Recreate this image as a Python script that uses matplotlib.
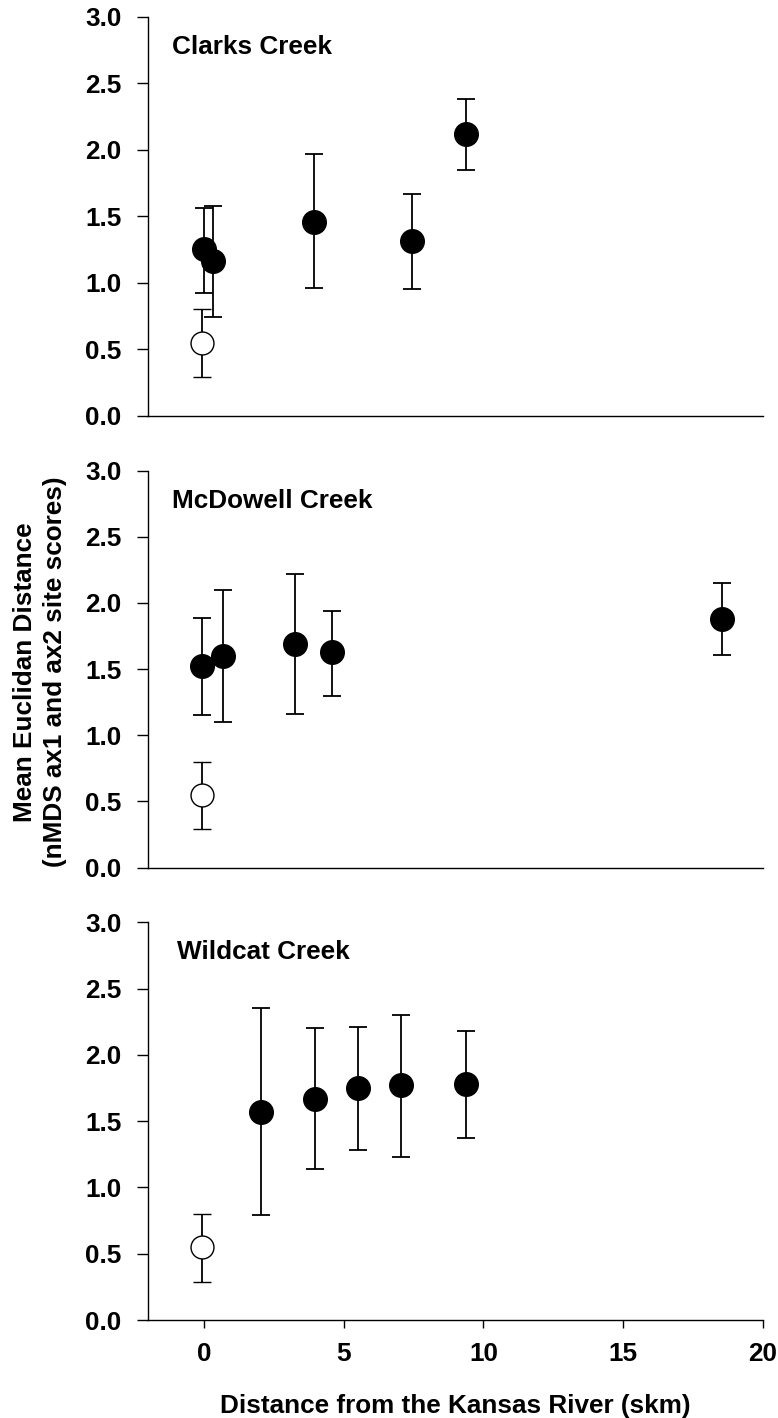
import numpy as np
import matplotlib
matplotlib.use('Agg')
import matplotlib.pyplot as plt

plt.rcParams['font.family'] = ['Liberation Sans', 'DejaVu Sans']
plt.rcParams['font.weight'] = 'bold'
plt.rcParams['font.size'] = 18.8

# %% data

creeks = ['Clarks Creek', 'McDowell Creek', 'Wildcat Creek']

# reference site (open circle), same in every panel
ref_x = -0.08
ref_y = 0.55
ref_lo = 0.29
ref_hi = 0.80

clarks_x = [0.0, 0.34, 3.95, 7.44, 9.36]
clarks_y = [1.25, 1.16, 1.46, 1.31, 2.12]
clarks_lo = [0.92, 0.74, 0.96, 0.95, 1.85]
clarks_hi = [1.56, 1.58, 1.97, 1.67, 2.38]

mcdowell_x = [-0.08, 0.67, 3.26, 4.57, 18.53]
mcdowell_y = [1.52, 1.60, 1.69, 1.63, 1.88]
mcdowell_lo = [1.15, 1.10, 1.16, 1.30, 1.61]
mcdowell_hi = [1.89, 2.10, 2.22, 1.94, 2.15]

wildcat_x = [2.05, 3.99, 5.51, 7.05, 9.36]
wildcat_y = [1.57, 1.67, 1.75, 1.77, 1.78]
wildcat_lo = [0.79, 1.14, 1.28, 1.23, 1.37]
wildcat_hi = [2.35, 2.20, 2.21, 2.30, 2.18]

xs = [clarks_x, mcdowell_x, wildcat_x]
ys = [clarks_y, mcdowell_y, wildcat_y]
los = [clarks_lo, mcdowell_lo, wildcat_lo]
his = [clarks_hi, mcdowell_hi, wildcat_hi]

xticks = [0, 5, 10, 15, 20]
yticks = [0.0, 0.5, 1.0, 1.5, 2.0, 2.5, 3.0]

# %% figure

W, H = 778, 1418
fig = plt.figure(figsize=(W / 100, H / 100), dpi=100)

left = 148 / W
width = (763 - 148) / W
# (top px, bottom px) of each panel
panels = [(16.7, 415.7), (470.7, 867.5), (922.3, 1320.0)]

for i, (top, bot) in enumerate(panels):
    ax = fig.add_axes([left, (H - bot) / H, width, (bot - top) / H])

    # reference point
    ax.errorbar([ref_x], [ref_y],
                yerr=[[ref_y - ref_lo], [ref_hi - ref_y]],
                fmt='o', ms=16.5, mfc='white', mec='black', mew=1.0,
                ecolor='black', elinewidth=1.3, capsize=6.5, capthick=1.3,
                zorder=3)

    x = np.array(xs[i])
    y = np.array(ys[i])
    yerr = [y - np.array(los[i]), np.array(his[i]) - y]
    ax.errorbar(x, y, yerr=yerr, fmt='o', ms=17, mfc='black', mec='black',
                ecolor='black', elinewidth=1.3, capsize=6.5, capthick=1.3,
                zorder=3)

    ax.set_xlim(-2, 20)
    ax.set_ylim(0, 3)
    ax.spines['top'].set_visible(False)
    ax.spines['right'].set_visible(False)
    ax.spines['left'].set_linewidth(1.0)
    ax.spines['bottom'].set_linewidth(1.0)
    for sp in ax.spines.values():
        sp.set_clip_on(False)

    ax.set_yticks(yticks)
    ax.set_yticklabels(['%.1f' % v for v in yticks])
    ax.tick_params(axis='y', direction='out', length=8, width=1.0, pad=11,
                   labelsize=18.8)

    ax.set_xticks(xticks)
    if i == 2:
        ax.set_xticklabels([str(v) for v in xticks])
        ax.tick_params(axis='x', direction='out', length=5.5, width=1.0,
                       pad=10, labelsize=18.8)
    else:
        ax.tick_params(axis='x', bottom=False, labelbottom=False)

    for lab in ax.get_xticklabels() + ax.get_yticklabels():
        lab.set_fontweight('bold')

    tx = -1.15 if i < 2 else -0.95
    ax.text(tx, 2.72, creeks[i], fontsize=18.8, fontweight='bold',
            ha='left', va='baseline')

fig.text(40 / W, (H - 672) / H,
         'Mean Euclidan Distance\n(nMDS ax1 and ax2 site scores)',
         rotation=90, ha='center', va='center', multialignment='center',
         fontsize=18.8, fontweight='bold', linespacing=1.3)

fig.text((148 + 763) / 2 / W, 5 / H, 'Distance from the Kansas River (skm)',
         ha='center', va='baseline', fontsize=18.8, fontweight='bold')

fig.savefig('out.png', dpi=100)
